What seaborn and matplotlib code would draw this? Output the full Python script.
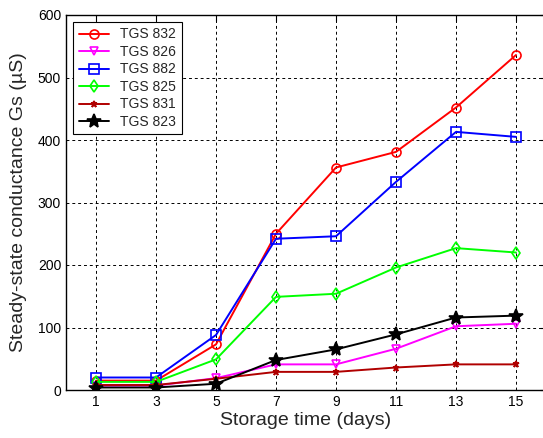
import matplotlib
matplotlib.use("Agg")
import matplotlib.pyplot as plt
import seaborn as sns
import pandas as pd

days = [1, 3, 5, 7, 9, 11, 13, 15]
labels = ["TGS 832", "TGS 826", "TGS 882", "TGS 825", "TGS 831", "TGS 823"]
tgs832 = [15, 15, 73, 250, 356, 381, 452, 536]
tgs826 = [7, 7, 19, 41, 41, 66, 102, 106]
tgs882 = [20, 20, 88, 242, 246, 333, 413, 405]
tgs825 = [13, 13, 49, 149, 154, 196, 227, 220]
tgs831 = [8, 8, 18, 29, 29, 36, 41, 41]
tgs823 = [4, 4, 10, 48, 65, 89, 116, 119]
series = [tgs832, tgs826, tgs882, tgs825, tgs831, tgs823]

colors = ["#ff0000", "#ff00ff", "#0000ff", "#00ff00", "#b00000", "#000000"]
markers = ["o", "v", "s", "d", "*", "*"]
msizes = [6.5, 5.5, 7.5, 6.5, 5, 10.5]
mfcs = ["none", "none", "none", "none", "#b00000", "#000000"]

sns.set_style("white")
plt.rcParams["font.family"] = ["Liberation Sans", "DejaVu Sans"]

fig = plt.figure(figsize=(5.43, 4.38), dpi=100)
ax = fig.add_axes([66 / 543, 48 / 438, 480 / 543, 375 / 438])

for lab, vals, c, m, ms, fc in zip(labels, series, colors, markers, msizes, mfcs):
    df = pd.DataFrame({"day": days, "val": vals})
    sns.lineplot(data=df, x="day", y="val", ax=ax, color=c, marker=m,
                 markersize=ms, markerfacecolor=fc, markeredgecolor=c,
                 markeredgewidth=1.2, linewidth=1.4, label=lab)

ax.set_xlim(0, 16)
ax.set_ylim(0, 600)
ax.set_xticks(days)
ax.set_yticks([0, 100, 200, 300, 400, 500, 600])
ax.tick_params(direction="in", top=True, right=True, length=4, labelsize=10,
               colors="black", width=0.8)
ax.grid(True, color="black", linestyle=(0, (3, 3)), linewidth=0.7)
for s in ax.spines.values():
    s.set_color("black")
    s.set_linewidth(1.0)
ax.set_xlabel("Storage time (days)", fontsize=14, labelpad=2)
ax.set_ylabel("Steady-state conductance Gs (\u00b5S)", fontsize=14, labelpad=8)

leg = ax.legend(loc="upper left", fontsize=10, frameon=True, fancybox=False,
                edgecolor="black", framealpha=1, handlelength=2.2,
                borderaxespad=0.5, labelspacing=0.25, borderpad=0.4)
leg.get_frame().set_linewidth(0.8)

fig.savefig("out.png", dpi=100)
